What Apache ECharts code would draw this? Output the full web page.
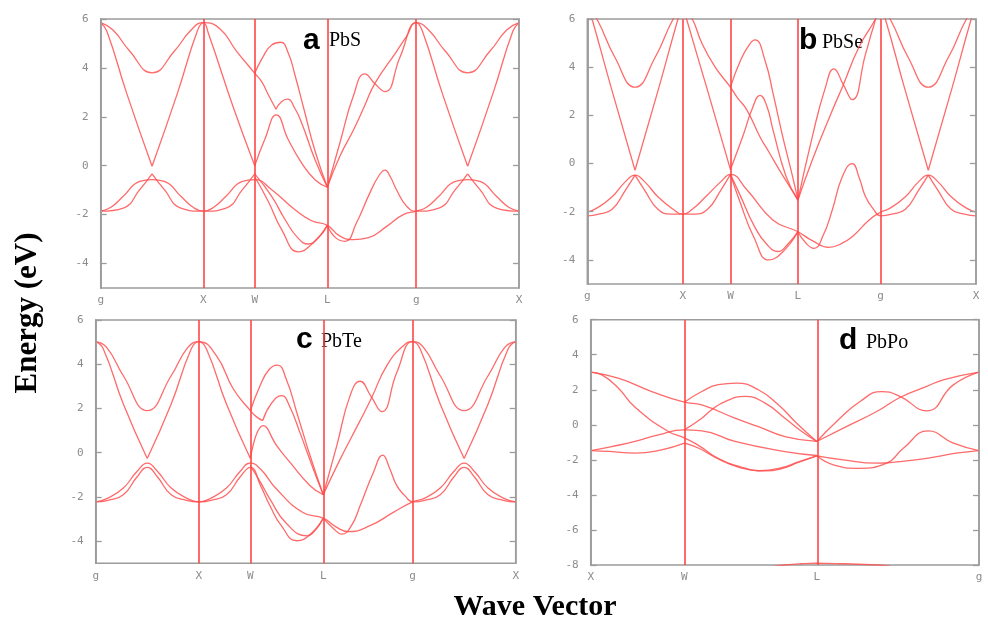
<!DOCTYPE html>
<html>
<head>
<meta charset="utf-8">
<script src="https://cdn.jsdelivr.net/npm/echarts@6/dist/echarts.min.js"></script>
<style>
  html, body { margin: 0; padding: 0; background: #ffffff; }
  #chart { width: 988px; height: 622px; }
</style>
</head>
<body>
<div id="chart"></div>
<script>
// High-symmetry path of the fcc Brillouin zone (cumulative |k| in units of 2*pi/a)
const fccPath = [0, 1, 1.5, 2.2071, 3.0731, 4.0731];
const fccNames = ['g', 'X', 'W', 'L', 'g', 'X'];
const poPath = [0, 0.5, 1.2071, 2.0731];
const poNames = ['X', 'W', 'L', 'g'];

const energyTicks = [-4, -2, 0, 2, 4, 6];
const energyTicksPo = [-8, -6, -4, -2, 0, 2, 4, 6];

// Bands: each band is a list of pieces, each piece a list of [k, E(eV)].
// Pieces meet at band crossings / cusps.
const pbsBands = [
  [
    [[0,5.85],[0.12,5.55],[0.28,4.7],[0.5,3.8],[0.72,4.7],[0.88,5.55],[1,5.85],[1.16,5.6],[1.32,4.7],[1.5,3.78],[1.567,3.44],[1.632,2.9],[1.707,2.31]],
    [[1.707,2.31],[1.76,2.62],[1.82,2.72],[1.89,2.35],[1.957,1.75],[2.087,0.24],[2.207,-0.88]],
    [[2.207,-0.88],[2.33,0.4],[2.46,1.45],[2.57,2.45],[2.67,3.37],[2.88,4.67],[2.98,5.3],[3.073,5.85],[3.193,5.55],[3.353,4.7],[3.573,3.8],[3.793,4.7],[3.953,5.55],[4.073,5.85]]
  ],
  [
    [[0,5.85],[0.06,5.5],[0.25,3.0],[0.5,-0.02]],
    [[0.5,-0.02],[0.75,3.0],[0.94,5.5],[1,5.85],[1.05,5.4],[1.29,2.4],[1.5,0]],
    [[1.5,0],[1.6,1.1],[1.71,2.08],[1.827,1.06],[1.957,0.11],[2.087,-0.57],[2.207,-0.88]],
    [[2.207,-0.88],[2.33,0.95],[2.46,2.85],[2.573,3.76],[2.67,3.35],[2.768,3.03],[2.915,4.45],[3.073,5.85],[3.133,5.5],[3.323,3.0],[3.573,-0.02]],
    [[3.573,-0.02],[3.823,3.0],[4.013,5.5],[4.073,5.85]]
  ],
  [
    [[1.5,3.78],[1.58,4.45],[1.665,4.94],[1.753,5.05],[1.827,4.6],[1.892,3.7],[1.98,2.3],[2.087,0.6],[2.207,-0.88]]
  ],
  [
    [[0,-1.86],[0.1,-1.7],[0.22,-1.25],[0.38,-0.64],[0.5,-0.57],[0.62,-0.64],[0.78,-1.25],[0.9,-1.7],[1,-1.86],[1.1,-1.7],[1.22,-1.25],[1.38,-0.64],[1.5,-0.57],[1.665,-0.98],[1.892,-1.8],[2.054,-2.25],[2.207,-2.44],[2.33,-2.88],[2.46,-3.02],[2.6,-2.95],[2.785,-2.48],[2.946,-2.0],[3.073,-1.86],[3.173,-1.7],[3.293,-1.25],[3.453,-0.64],[3.573,-0.57],[3.693,-0.64],[3.853,-1.25],[3.973,-1.7],[4.073,-1.86]]
  ],
  [
    [[0,-1.86],[0.22,-1.73],[0.38,-0.98],[0.5,-0.33]],
    [[0.5,-0.33],[0.62,-0.98],[0.78,-1.73],[1,-1.86],[1.22,-1.73],[1.38,-0.98],[1.5,-0.33]],
    [[1.5,-0.33],[1.665,-1.25],[1.795,-2.2],[1.92,-2.95],[2.02,-3.2],[2.12,-2.95],[2.207,-2.44]],
    [[2.207,-2.44],[2.29,-2.95],[2.38,-3.09],[2.49,-2.34],[2.62,-1.12],[2.71,-0.4],[2.768,-0.18],[2.82,-0.45],[2.88,-0.98],[2.98,-1.66],[3.073,-1.86],[3.293,-1.73],[3.453,-0.98],[3.573,-0.33]],
    [[3.573,-0.33],[3.693,-0.98],[3.853,-1.73],[4.073,-1.86]]
  ],
  [
    [[1.5,-0.45],[1.632,-1.46],[1.762,-2.61],[1.925,-3.52],[2.07,-3.15],[2.207,-2.44]]
  ]
];

const pbseBands = [
  [
    [[0,6.5],[0.1,6.0],[0.29,4.4],[0.5,3.17],[0.71,4.4],[0.9,6.0],[1,6.5],[1.1,6.0],[1.2,5.0],[1.34,4.0],[1.5,3.17],[1.568,2.76],[1.674,2.21],[1.81,1.1],[1.9,0.5],[2.015,-0.28],[2.12,-0.95],[2.207,-1.52]],
    [[2.207,-1.52],[2.357,0.14],[2.567,2.2],[2.672,3.17],[2.846,4.83],[3.02,6.0],[3.073,6.5],[3.173,6.0],[3.363,4.4],[3.573,3.17],[3.783,4.4],[3.973,6.0],[4.073,6.5]]
  ],
  [
    [[0,6.6],[0.05,6.0],[0.25,3.15],[0.5,-0.28]],
    [[0.5,-0.28],[0.75,3.15],[0.95,6.0],[1,6.6],[1.04,6.0],[1.27,2.9],[1.5,-0.25]],
    [[1.5,-0.25],[1.639,1.24],[1.73,2.3],[1.81,2.83],[1.88,2.4],[1.947,1.38],[2.084,-0.55],[2.207,-1.52]],
    [[2.207,-1.52],[2.357,1.1],[2.496,3.17],[2.584,3.93],[2.68,3.3],[2.776,2.65],[2.916,4.55],[3.0,5.7],[3.073,6.5],[3.123,6.0],[3.323,3.15],[3.573,-0.28]],
    [[3.573,-0.28],[3.823,3.15],[4.023,6.0],[4.073,6.6]]
  ],
  [
    [[1.5,3.17],[1.605,4.28],[1.7,4.95],[1.759,5.13],[1.862,4.28],[1.947,2.9],[2.049,1.1],[2.152,-0.55],[2.207,-1.52]]
  ],
  [
    [[0,-2.02],[0.1,-1.85],[0.26,-1.38],[0.4,-0.75],[0.5,-0.48],[0.6,-0.75],[0.74,-1.38],[0.9,-1.9],[1,-2.1],[1.1,-1.9],[1.24,-1.38],[1.4,-0.75],[1.5,-0.45],[1.674,-1.1],[1.947,-2.35],[2.207,-2.83],[2.357,-3.2],[2.532,-3.48],[2.65,-3.35],[2.776,-3.04],[2.951,-2.35],[3.073,-2.02],[3.173,-1.85],[3.333,-1.38],[3.473,-0.75],[3.573,-0.48],[3.673,-0.75],[3.813,-1.38],[3.973,-1.85],[4.073,-2.02]]
  ],
  [
    [[0,-2.17],[0.12,-2.1],[0.26,-1.9],[0.4,-1.1],[0.5,-0.48]],
    [[0.5,-0.48],[0.6,-1.1],[0.74,-1.9],[0.88,-2.1],[1,-2.1],[1.12,-2.1],[1.26,-1.9],[1.4,-1.1],[1.5,-0.45]],
    [[1.5,-0.45],[1.6,-1.3],[1.75,-2.6],[1.88,-3.35],[2.0,-3.65],[2.1,-3.35],[2.207,-2.83]],
    [[2.207,-2.83],[2.29,-3.3],[2.375,-3.52],[2.47,-3.0],[2.567,-1.93],[2.672,-0.55],[2.776,0.0],[2.85,-0.6],[2.916,-1.38],[3.0,-1.9],[3.073,-2.17],[3.193,-2.1],[3.333,-1.9],[3.473,-1.1],[3.573,-0.48]],
    [[3.573,-0.48],[3.673,-1.1],[3.813,-1.9],[3.953,-2.1],[4.073,-2.17]]
  ],
  [
    [[1.5,-0.45],[1.6,-1.6],[1.75,-3.1],[1.9,-4.0],[2.04,-3.7],[2.207,-2.83]]
  ]
];

const pbteBands = [
  [
    [[0,5.02],[0.106,4.76],[0.268,3.48],[0.5,1.9],[0.732,3.48],[0.894,4.76],[1,5.02],[1.17,4.39],[1.335,2.88],[1.5,1.9],[1.56,1.62],[1.62,1.45]],
    [[1.62,1.45],[1.7,2.2],[1.804,2.58],[1.88,2.1],[1.98,0.92],[2.11,-0.74],[2.207,-1.9]],
    [[2.207,-1.9],[2.37,-0.3],[2.564,1.45],[2.677,2.5],[2.823,3.94],[2.984,4.84],[3.073,5.02],[3.179,4.76],[3.341,3.48],[3.573,1.9],[3.805,3.48],[3.967,4.76],[4.073,5.02]]
  ],
  [
    [[0,5.02],[0.074,4.69],[0.268,2.2],[0.5,-0.26]],
    [[0.5,-0.26],[0.732,2.2],[0.926,4.69],[1,5.02],[1.074,4.69],[1.268,2.2],[1.5,-0.26]],
    [[1.5,-0.26],[1.626,1.22],[1.755,0.32],[1.885,-0.44],[2.079,-1.49],[2.207,-1.9]],
    [[2.207,-1.9],[2.338,0.32],[2.467,2.58],[2.564,3.23],[2.67,2.55],[2.774,1.86],[2.92,3.63],[3.073,5.02],[3.147,4.69],[3.341,2.2],[3.573,-0.26]],
    [[3.573,-0.26],[3.805,2.2],[3.999,4.69],[4.073,5.02]]
  ],
  [
    [[1.5,1.9],[1.594,3.03],[1.68,3.75],[1.762,3.96],[1.85,3.3],[1.95,1.82],[2.079,-0.14],[2.207,-1.9]]
  ],
  [
    [[0,-2.22],[0.12,-2.05],[0.268,-1.6],[0.4,-0.85],[0.5,-0.47],[0.6,-0.85],[0.732,-1.6],[0.88,-2.05],[1,-2.22],[1.12,-2.05],[1.268,-1.6],[1.4,-0.85],[1.5,-0.47],[1.6,-0.75],[1.755,-1.65],[2.01,-2.7],[2.207,-2.96],[2.33,-3.35],[2.45,-3.57],[2.66,-3.3],[2.886,-2.7],[3.073,-2.22],[3.193,-2.05],[3.341,-1.6],[3.473,-0.85],[3.573,-0.47],[3.673,-0.85],[3.805,-1.6],[3.953,-2.05],[4.073,-2.22]]
  ],
  [
    [[0,-2.22],[0.12,-2.15],[0.268,-1.9],[0.4,-1.1],[0.5,-0.66],[0.6,-1.1],[0.732,-1.9],[0.88,-2.15],[1,-2.22],[1.12,-2.15],[1.268,-1.9],[1.4,-1.1],[1.5,-0.66],[1.6,-1.5],[1.69,-2.4],[1.8,-3.3],[1.95,-3.98],[2.08,-3.7],[2.207,-2.96]],
    [[2.207,-2.96],[2.3,-3.4],[2.386,-3.68],[2.48,-3.3],[2.564,-2.4],[2.693,-0.89],[2.784,-0.11],[2.85,-0.7],[2.92,-1.49],[3.0,-1.95],[3.073,-2.22],[3.193,-2.15],[3.341,-1.9],[3.473,-1.1],[3.573,-0.66],[3.673,-1.1],[3.805,-1.9],[3.953,-2.15],[4.073,-2.22]]
  ],
  [
    [[1.5,-0.6],[1.6,-1.35],[1.69,-2.1],[1.85,-3.2],[2.05,-3.76],[2.13,-3.5],[2.207,-2.96]]
  ]
];

const pbpoBands = [
  [
    [[0,3.01],[0.147,2.66],[0.326,1.9],[0.5,1.29],[0.593,1.14],[0.77,0.38],[0.895,-0.1],[1.037,-0.67],[1.207,-0.95]],
    [[1.207,-0.95],[1.313,0.19],[1.438,1.33],[1.554,1.9],[1.651,1.62],[1.794,0.8],[1.936,2.28],[2.073,3.01]]
  ],
  [
    [[0,3.01],[0.06,2.85],[0.147,2.1],[0.237,1.0],[0.414,-0.38],[0.5,-0.74],[0.575,-1.17],[0.681,-1.91],[0.8,-2.4],[0.931,-2.63],[1.02,-2.5],[1.108,-2.15],[1.207,-1.77]],
    [[1.207,-1.77],[1.3,-2.3],[1.429,-2.48],[1.58,-2.19],[1.669,-1.34],[1.802,-0.35],[1.936,-1.05],[2.073,-1.47]]
  ],
  [
    [[0,-1.47],[0.112,-1.24],[0.237,-0.95],[0.361,-0.57],[0.5,-0.29],[0.593,-0.34],[0.77,-0.95],[1.037,-1.53],[1.207,-1.75]]
  ],
  [
    [[0.5,-0.29],[0.593,0.38],[0.646,0.86],[0.717,1.33],[0.824,1.62],[0.931,1.24],[1.037,0.38],[1.127,-0.38],[1.207,-0.95]],
    [[1.207,-0.95],[1.349,-0.19],[1.527,0.76],[1.651,1.56],[1.794,2.19],[1.882,2.57],[2.073,3.01]]
  ],
  [
    [[0.5,1.29],[0.593,1.9],[0.681,2.29],[0.779,2.38],[0.895,2.0],[1.002,1.14],[1.108,0.0],[1.207,-0.95]]
  ],
  [
    [[0,-1.47],[0.1,-1.52],[0.237,-1.62],[0.379,-1.43],[0.5,-1.05]],
    [[0.5,-1.05],[0.58,-1.35],[0.681,-1.95],[0.8,-2.45],[0.9,-2.62],[1.02,-2.45],[1.108,-2.12],[1.207,-1.77]],
    [[1.207,-1.77],[1.349,-2.0],[1.527,-2.19],[1.65,-2.1],[1.794,-1.91],[1.95,-1.62],[2.073,-1.47]]
  ],
  [
    [[0.95,-8.12],[1.037,-8.0],[1.12,-7.93],[1.207,-7.9],[1.35,-7.93],[1.53,-8.0],[1.6,-8.06]]
  ]
];

// Layout of the four panels (pixel rectangles of the plot frames)
const panels = [
  { bands: pbsBands,  path: fccPath, names: fccNames, yMin: -5, yMax: 6, ticks: energyTicks,
    rect: { left: 100.7, top: 19, width: 418.3, height: 269 },
    letter: { text: 'a', x: 303, y: 41 }, formula: { text: 'PbS', x: 329, y: 42 } },
  { bands: pbseBands, path: fccPath, names: fccNames, yMin: -5, yMax: 6, ticks: energyTicks,
    rect: { left: 587.3, top: 19, width: 388.7, height: 265 },
    letter: { text: 'b', x: 799, y: 41 }, formula: { text: 'PbSe', x: 822, y: 44 } },
  { bands: pbteBands, path: fccPath, names: fccNames, yMin: -5, yMax: 6, ticks: energyTicks,
    rect: { left: 95.7, top: 320, width: 420, height: 243.3 },
    letter: { text: 'c', x: 296, y: 340 }, formula: { text: 'PbTe', x: 321, y: 343 } },
  { bands: pbpoBands, path: poPath, names: poNames, yMin: -8, yMax: 6, ticks: energyTicksPo,
    rect: { left: 590.7, top: 319.7, width: 388.3, height: 245.3 },
    letter: { text: 'd', x: 839, y: 341 }, formula: { text: 'PbPo', x: 866, y: 344 } }
];

const bandColor = 'rgba(255, 80, 80, 0.85)';
const symLineColor = '#ff4646';
const frameColor = '#9c9c9c';
const tickTextColor = '#8c8c8c';
const tickFont = 'DejaVu Sans Mono';

function piecesToData(pieces) {
  const out = [];
  pieces.forEach((piece, i) => {
    if (i > 0) out.push(['-', '-']);
    piece.forEach(p => out.push([p[0], p[1]]));
  });
  return out;
}

const grid = [], xAxis = [], yAxis = [], series = [], graphic = [];

panels.forEach((p, gi) => {
  grid.push(Object.assign({ show: true, borderColor: frameColor, borderWidth: 1.5,
    backgroundColor: 'transparent', containLabel: false }, p.rect));

  const names = p.names, path = p.path;
  xAxis.push({
    gridIndex: gi, type: 'value', min: 0, max: path[path.length - 1],
    axisLine: { show: false }, axisTick: { show: false }, splitLine: { show: false },
    axisLabel: {
      customValues: path, margin: 7, color: tickTextColor, fontFamily: tickFont, fontSize: 11,
      showMinLabel: true, showMaxLabel: true,
      formatter: v => {
        let best = 0;
        path.forEach((k, i) => { if (Math.abs(k - v) < Math.abs(path[best] - v)) best = i; });
        return names[best];
      }
    }
  });

  const yCommon = {
    gridIndex: gi, type: 'value', min: p.yMin, max: p.yMax, z: 5,
    axisLine: { show: true, onZero: false, lineStyle: { color: frameColor, width: 1.5 } },
    splitLine: { show: false }
  };
  const tickStyle = { color: frameColor, width: 1.3 };
  // left axis carrying the energy labels
  yAxis.push(Object.assign({}, yCommon, {
    position: 'left', axisTick: { show: false },
    axisLabel: { customValues: p.ticks, margin: 12, color: tickTextColor, fontFamily: tickFont, fontSize: 11 }
  }));
  // inward ticks on the left frame edge (right-side axis shifted onto the left edge)
  yAxis.push(Object.assign({}, yCommon, {
    position: 'right', offset: -p.rect.width, axisLabel: { show: false },
    axisTick: { show: true, inside: false, length: 6, customValues: p.ticks, lineStyle: tickStyle }
  }));
  // inward ticks on the right frame edge
  yAxis.push(Object.assign({}, yCommon, {
    position: 'right', axisLabel: { show: false },
    axisTick: { show: true, inside: true, length: 6, customValues: p.ticks, lineStyle: tickStyle }
  }));

  const yi = 3 * gi;

  // vertical lines at the interior high-symmetry points
  series.push({
    type: 'line', xAxisIndex: gi, yAxisIndex: yi, data: [], silent: true,
    markLine: {
      silent: true, symbol: ['none', 'none'], label: { show: false }, animation: false,
      lineStyle: { color: symLineColor, width: 1.6, type: 'solid' },
      data: path.slice(1, -1).map(k => ({ xAxis: k }))
    }
  });

  p.bands.forEach(band => {
    series.push({
      type: 'line', xAxisIndex: gi, yAxisIndex: yi,
      data: piecesToData(band), smooth: 0.5, connectNulls: false,
      showSymbol: false, symbol: 'none', silent: true, clip: true, z: 3,
      lineStyle: { color: bandColor, width: 1.3 }
    });
  });

  graphic.push({
    type: 'text', left: p.letter.x, top: p.letter.y - 15, silent: true,
    style: { text: p.letter.text, fontFamily: 'Liberation Sans', fontWeight: 'bold', fontSize: 30, fill: '#000' }
  });
  graphic.push({
    type: 'text', left: p.formula.x, top: p.formula.y - 11, silent: true,
    style: { text: p.formula.text, fontFamily: 'Liberation Serif', fontSize: 20, fill: '#000' }
  });
});

graphic.push({
  type: 'text', x: 28, y: 313, rotation: Math.PI / 2, silent: true,
  style: { text: 'Energy (eV)', fontFamily: 'Liberation Serif', fontWeight: 'bold', fontSize: 31,
    fill: '#000', align: 'center', verticalAlign: 'middle' }
});
graphic.push({
  type: 'text', x: 535, y: 607, silent: true,
  style: { text: 'Wave Vector', fontFamily: 'Liberation Serif', fontWeight: 'bold', fontSize: 30,
    fill: '#000', align: 'center', verticalAlign: 'middle' }
});

const chart = echarts.init(document.getElementById('chart'), null, { renderer: 'canvas' });
chart.setOption({
  animation: false,
  backgroundColor: '#ffffff',
  grid, xAxis, yAxis, series, graphic
});
</script>
</body>
</html>
